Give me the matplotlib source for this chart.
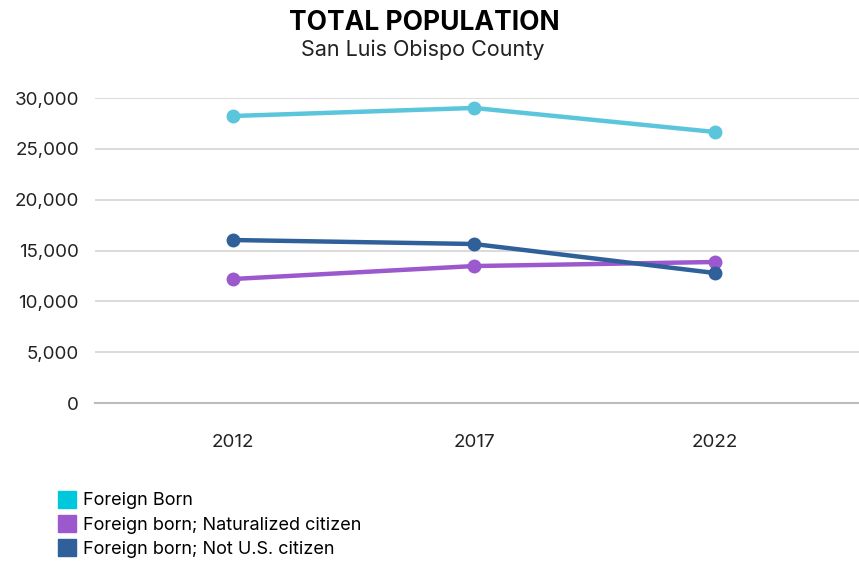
import matplotlib.pyplot as plt
from matplotlib.patches import Patch
from matplotlib.ticker import FuncFormatter

plt.rcParams['font.family'] = ['Inter', 'DejaVu Sans']

# Data
years = ['2012', '2017', '2022']
foreign_born = [28230, 29020, 26660]
naturalized = [12200, 13470, 13870]
not_citizen = [16030, 15640, 12790]

labels = ['Foreign Born', 'Foreign born; Naturalized citizen', 'Foreign born; Not U.S. citizen']
line_colors = ['#5bc6db', '#9b59cd', '#2f6099']
swatch_colors = ['#00c8dc', '#9b59cd', '#2f6099']

fig = plt.figure(figsize=(8.59, 5.62), dpi=100)
ax = fig.add_axes([95 / 859, 1 - 403 / 562, 1 - 95 / 859, (403 - 98) / 562])

x = list(range(len(years)))
for vals, c in zip([foreign_born, naturalized, not_citizen], line_colors):
    ax.plot(x, vals, color=c, lw=3.2, marker='o', ms=9, clip_on=False, zorder=3)

ax.set_ylim(0, 30000)
ax.set_xlim(-0.575, 2.6)
ax.set_yticks(range(0, 30001, 5000))
ax.yaxis.set_major_formatter(FuncFormatter(lambda v, p: f'{int(v):,}'))
ax.set_xticks(x)
ax.set_xticklabels(years)
ax.tick_params(length=0, labelsize=13.5, colors='#222222')
ax.tick_params(axis='x', pad=22)
ax.tick_params(axis='y', pad=11.5)
ax.grid(axis='y', color='#d4d4d4', lw=1.2)
ax.set_axisbelow(True)
for s in ['top', 'right', 'left']:
    ax.spines[s].set_visible(False)
ax.spines['bottom'].set_color('#bbbbbb')
ax.spines['bottom'].set_linewidth(1.5)

fig.text(0.494, 0.959, 'TOTAL POPULATION', ha='center', va='center',
         fontsize=19, fontweight='bold', color='black')
fig.text(0.492, 0.912, 'San Luis Obispo County', ha='center', va='center',
         fontsize=15.5, color='#222222')

handles = [Patch(color=c) for c in swatch_colors]
fig.legend(handles, labels, loc='upper left', bbox_to_anchor=(0.068, 0.127),
           frameon=False, fontsize=13, handlelength=1.0, handleheight=1.1,
           handletextpad=0.35, labelspacing=0.3, borderaxespad=0,
           borderpad=0)

fig.savefig('out.png', dpi=100)
